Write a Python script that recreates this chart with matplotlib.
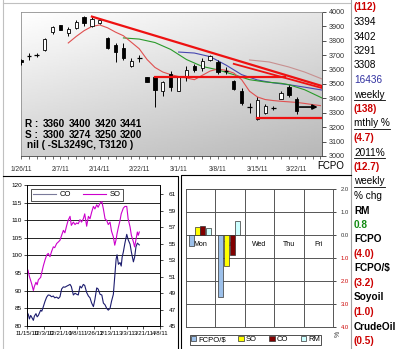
import numpy as np
import matplotlib.pyplot as plt

plt.rcParams['font.family'] = ['Liberation Sans', 'DejaVu Sans']

W, H = 400, 349


def rect(l, t, r, b):
    # pixel box -> figure fraction
    return [l / W, 1 - b / H, (r - l) / W, (b - t) / H]


# %% FCPO daily candles
opens  = [3665, 3692, 3698, 3736, 3861, 3910, 3854, 3889, 3965, 3903, 3924, 3819,
          3771, 3750, 3625, 3678, 3548, 3548, 3451, 3569, 3451, 3556, 3625, 3611,
          3667, 3653, 3588, 3521, 3451, 3338, 3257, 3299, 3331, 3396, 3479, 3396]
highs  = [3675, 3715, 3712, 3818, 3905, 3912, 3893, 3945, 3972, 3965, 3948, 3825,
          3785, 3785, 3680, 3700, 3550, 3550, 3520, 3590, 3555, 3625, 3640, 3680,
          3700, 3670, 3620, 3530, 3470, 3370, 3410, 3360, 3350, 3450, 3490, 3410]
lows   = [3635, 3667, 3690, 3730, 3850, 3872, 3830, 3882, 3903, 3898, 3920, 3745,
          3653, 3670, 3620, 3650, 3512, 3340, 3420, 3450, 3448, 3520, 3580, 3590,
          3662, 3570, 3570, 3455, 3355, 3300, 3250, 3290, 3320, 3395, 3410, 3290]
closes = [3650, 3696, 3702, 3812, 3894, 3875, 3882, 3930, 3924, 3951, 3944, 3750,
          3722, 3680, 3660, 3682, 3514, 3458, 3514, 3479, 3548, 3597, 3597, 3660,
          3694, 3583, 3592, 3465, 3368, 3342, 3389, 3347, 3336, 3437, 3424, 3313]
date_labels = ['1/26/11', '2/7/11', '2/14/11', '2/22/11', '3/1/11', '3/8/11', '3/15/11', '3/22/11']

# moving averages (bar index, price)
ma_red_x = list(range(6, 39))
ma_red = [3785, 3830, 3870, 3900, 3910, 3890, 3860, 3835, 3790, 3745, 3670, 3615,
          3583, 3565, 3552, 3542, 3530, 3560, 3590, 3604, 3595, 3576, 3530, 3450,
          3410, 3392, 3385, 3380, 3376, 3372, 3365, 3357, 3350]
ma_green_x = [13, 15, 17, 19, 21, 23, 25, 27, 29, 31, 33, 34, 36, 38.2]
ma_green = [3820, 3812, 3788, 3740, 3670, 3622, 3598, 3565, 3530, 3514, 3505, 3495, 3460, 3403]
ma_blue_x = [20, 22, 24, 26, 28, 30, 32, 34, 36, 38.2]
ma_blue = [3722, 3715, 3690, 3632, 3565, 3528, 3508, 3495, 3478, 3458]
ma_slow_x = [29, 31.5, 34, 36, 38.2]
ma_slow = [3667, 3653, 3618, 3583, 3535]

# trend / support lines
resist_x, resist_y = [9, 38.2], [3968, 3486]
resist2_x, resist2_y = [27, 38.2], [3640, 3472]
supp_hi_x, supp_hi_y = [17, 33.5], [3550, 3550]
supp_lo_x, supp_lo_y = [30, 38.2], [3262, 3262]
arrow_x, arrow_y = [35, 38], 3340

# %% CO / SO history (days since 11/15/10)
co_days = [0, 1.5, 2.6, 4, 5.1, 6.9, 8, 9.7, 11, 12.3, 14.8, 16, 17.7, 19.5, 21.3, 23, 24.9,
           26.5, 28.5, 30, 32.1, 34, 35.7, 37.5, 39.4, 41, 43, 44.5, 46.6, 48, 50.2, 52,
           53.8, 55.5, 57.4, 59, 61, 62.5, 64.6, 66.5, 68.2, 70, 71.9, 73.5, 75.5, 77,
           79.1, 81, 82.7, 84.5, 86.3, 88, 89.9, 91.5, 93.5, 95, 96.5, 97.5, 99, 100.7,
           102, 103, 104.3, 106, 108, 109.5, 111.6, 113, 115.2, 116.5, 118, 119.5, 121.6]
co_vals = [84.0, 83.2, 82.0, 83.0, 82.5, 81.6, 82.8, 83.5, 82.6, 83.0, 84.5, 84.2, 85.5,
           87.0, 88.2, 88.8, 88.7, 88.3, 88.5, 88.0, 88.2, 87.8, 88.3, 90.5, 91.1, 91.0,
           91.3, 91.5, 91.8, 91.2, 88.8, 89.3, 89.0, 88.8, 91.3, 90.8, 91.8, 91.5, 89.5,
           88.5, 88.0, 86.5, 85.5, 87.5, 90.8, 90.5, 89.0, 88.8, 86.5, 86.0, 85.0, 84.5,
           85.0, 87.0, 89.0, 94.0, 99.0, 100.2, 97.5, 98.0, 97.0, 99.5, 101.0, 103.5,
           106.0, 104.5, 103.2, 101.0, 98.2, 99.5, 102.5, 103.5, 103.0]
so_days = [0, 1, 2.6, 4, 5.1, 6.9, 8, 9.7, 11, 12.3, 14.8, 16, 17.7, 19.5, 21.3, 23, 24.9,
           26.5, 28.5, 30, 32.1, 34, 35.7, 37.5, 39.4, 41, 43, 44.5, 46.6, 48, 50.2, 52,
           53.8, 55.5, 57.4, 59, 61, 62.5, 64.6, 66.5, 68.2, 70, 71.9, 73.5, 75.5, 77,
           79.1, 81, 82.7, 84.5, 86.3, 88, 89.9, 91.5, 93.5, 95, 96.5, 97.5, 99, 100.7,
           102, 104.3, 106, 108, 109.5, 111.6, 113, 115.2, 116.5, 118, 119.5, 120.5, 121.6]
so_vals = [51.4, 51.8, 51.0, 50.5, 50.1, 49.3, 49.8, 50.3, 50.0, 50.6, 50.9, 51.5, 52.3,
           53.0, 53.6, 53.8, 53.4, 54.0, 54.6, 54.5, 55.0, 55.2, 55.4, 56.0, 56.6, 56.3,
           57.2, 57.8, 58.3, 57.2, 57.6, 57.3, 57.5, 57.4, 57.9, 57.6, 58.0, 58.6, 57.1,
           58.3, 58.0, 58.8, 59.5, 59.2, 59.7, 59.4, 59.9, 60.1, 59.2, 58.0, 57.8, 57.3,
           57.6, 56.5, 55.8, 54.8, 55.5, 56.2, 57.0, 57.8, 58.6, 59.3, 59.5, 59.5, 58.0,
           57.0, 56.0, 55.2, 54.6, 55.5, 56.4, 56.0, 56.4]
co_tick_days = [0, 18, 36, 54, 72, 90, 108, 126, 144]
co_tick_labels = ['11/15/10', '12/3/10', '12/21/10', '1/8/11', '1/26/11',
                  '2/13/11', '3/3/11', '3/21/11', '4/8/11']

# %% weekly % change bars
bar_days = ['Mon', 'Tue', 'Wed', 'Thu', 'Fri']
chg_fcpo_usd = [-0.48, -2.70]
chg_so = [0.35, -1.35]
chg_co = [0.40, -0.87]
chg_rm = [0.30, 0.60]

# %% side column
side_text = [
    ('(112)', '#cc0000', 'bold', False), ('3394', 'black', 'normal', False),
    ('3402', 'black', 'normal', False), ('3291', 'black', 'normal', False),
    ('3308', 'black', 'normal', False), ('16436', '#3030a0', 'normal', False),
    ('weekly', 'black', 'normal', True), ('(138)', '#cc0000', 'bold', False),
    ('mthly %', 'black', 'normal', True), ('(4.7)', '#cc0000', 'bold', False),
    ('2011%', 'black', 'normal', True), ('(12.7)', '#cc0000', 'bold', False),
    ('weekly', 'black', 'normal', True), ('% chg', 'black', 'normal', False),
    ('RM', 'black', 'bold', False), ('0.8', '#128a12', 'bold', False),
    ('FCPO', 'black', 'bold', False), ('(4.0)', '#cc0000', 'bold', False),
    ('FCPO/$', 'black', 'bold', False), ('(3.2)', '#cc0000', 'bold', False),
    ('Soyoil', 'black', 'bold', False), ('(1.0)', '#cc0000', 'bold', False),
    ('CrudeOil', 'black', 'bold', False), ('(0.5)', '#cc0000', 'bold', False),
]

fig = plt.figure(figsize=(W / 100, H / 100), dpi=100)
fig.patch.set_facecolor('white')

# %% top candle chart
ax = fig.add_axes(rect(21, 12, 322, 156))
XMAX = 38.2
gy, gx = np.mgrid[0:1:100j, 0:1:100j]
grad = 1 - 0.18 * gy - 0.1 * gx
ax.imshow(grad, extent=[0, XMAX, 3000, 4000], aspect='auto', cmap='gray',
          vmin=0, vmax=1, zorder=0, origin='upper')

xi = np.arange(len(opens))
o = np.array(opens, float)
c = np.array(closes, float)
up = c >= o
doji = np.abs(c - o) < 8
lo = np.minimum(o, c)
hgt = np.abs(c - o)
ax.vlines(xi, lows, highs, color='black', lw=0.7, zorder=3)
m = ~doji & up
ax.bar(xi[m], hgt[m], bottom=lo[m], width=0.42, color='white', edgecolor='black', lw=0.6, zorder=4)
m = ~doji & ~up
ax.bar(xi[m], hgt[m], bottom=lo[m], width=0.42, color='black', edgecolor='black', lw=0.6, zorder=4)
ax.hlines(c[doji], xi[doji] - 0.3, xi[doji] + 0.3, color='black', lw=0.9, zorder=4)

ax.plot(ma_slow_x, ma_slow, color='#c89090', lw=0.8, zorder=2)
ax.plot(ma_blue_x, ma_blue, color='#4646b0', lw=0.8, zorder=2)
ax.plot(ma_green_x, ma_green, color='#2a9a2a', lw=0.8, zorder=2)
ax.plot(ma_red_x, ma_red, color='#e05050', lw=0.8, zorder=2)
ax.plot(resist_x, resist_y, color='#ee1111', lw=1.6, zorder=5)
ax.plot(resist2_x, resist2_y, color='#ee1111', lw=1.3, zorder=5)
ax.plot(supp_hi_x, supp_hi_y, color='#ee1111', lw=1.6, zorder=5)
ax.plot(supp_lo_x, supp_lo_y, color='#ee1111', lw=1.6, zorder=5)
ax.annotate('', xy=(arrow_x[1], arrow_y), xytext=(arrow_x[0], arrow_y),
            arrowprops=dict(arrowstyle='-|>', color='black', lw=1.2, mutation_scale=7),
            zorder=6)

ax.set_xlim(0, XMAX)
ax.set_ylim(3000, 4000)
ax.yaxis.tick_right()
ax.set_yticks(range(3000, 4001, 100))
ax.tick_params(axis='y', labelsize=5.2, length=3, width=0.6, pad=2, colors='#333333')
ax.set_xticks(range(0, 36, 5))
ax.set_xticklabels(date_labels)
ax.set_xticks(range(0, 39), minor=True)
ax.tick_params(axis='x', which='both', labelsize=4.8, length=2.5, width=0.5, pad=5, colors='#333333')
for s in ax.spines.values():
    s.set_color('#909090')
    s.set_linewidth(0.6)
ax.spines['bottom'].set_color('#404040')
ax.spines['right'].set_color('#404040')

# %% CO / SO chart
ax2 = fig.add_axes(rect(27, 185, 160, 326))
l_co, = ax2.plot(co_days, co_vals, color='#1c1c6e', lw=0.8)
ax2.set_ylim(80, 120)
ax2.set_yticks(range(80, 121, 5))
ax2.set_xlim(0, 144)
ax2.set_xticks(co_tick_days)
ax2.set_xticklabels(co_tick_labels)
ax2.grid(axis='y', color='black', lw=0.6)
ax2.tick_params(labelsize=4.6, length=2, width=0.5, pad=1.5)
ax2.tick_params(axis='x', labelsize=4.4)
ax2.spines['top'].set_visible(False)
ax2b = ax2.twinx()
l_so, = ax2b.plot(so_days, so_vals, color='#cc00cc', lw=0.8)
ax2b.set_ylim(45, 62.1)
ax2b.set_yticks(range(45, 62, 2))
ax2b.tick_params(labelsize=4.6, length=2, width=0.5, pad=4)
ax2b.spines['top'].set_visible(False)
for a in (ax2, ax2b):
    for s in a.spines.values():
        s.set_linewidth(0.6)
leg = ax2.legend([l_co, l_so], ['CO', 'SO'], ncol=2, loc='upper left',
                 bbox_to_anchor=(0.0, 1.0), fontsize=5.5, frameon=True, fancybox=False,
                 handlelength=3, columnspacing=1.5, borderpad=0.3, handletextpad=0.5)
leg.get_frame().set_edgecolor('black')
leg.get_frame().set_linewidth(0.6)
leg.legend_handles[0].set_color('#7a7a9a')

# %% weekly change bars
ax3 = fig.add_axes(rect(186, 189, 333, 327))
offs = [-0.31, -0.12, 0.07, 0.26]
series = [(chg_fcpo_usd, '#9cc0ea', 'FCPO/$'), (chg_so, '#ffff00', 'SO'),
          (chg_co, '#800000', 'CO'), (chg_rm, '#ccffff', 'RM')]
handles = []
for (vals, col, lab), d in zip(series, offs):
    b = ax3.bar(np.arange(len(vals)) + d, vals, width=0.17, color=col,
                edgecolor='#333333', lw=0.5, label=lab, zorder=3)
    handles.append(b)
ax3.set_xlim(-0.5, 4.5)
ax3.set_ylim(-4, 2)
ax3.set_xticks([])
for k in range(1, 5):
    ax3.axvline(k - 0.5, color='#555555', lw=0.7, zorder=1)
ax3.set_yticks(range(-4, 3))
ax3.grid(axis='y', color='#555555', lw=0.7, zorder=1)
ax3.yaxis.tick_right()
ax3.set_yticklabels([f'{abs(v):.1f}' for v in range(-4, 3)])
for t, v in zip(ax3.get_yticklabels(), range(-4, 3)):
    t.set_color('#cc0000' if v < 0 else '#333333')
ax3.tick_params(axis='y', labelsize=4.2, length=2.5, width=0.5, pad=3)
for i, dname in enumerate(bar_days):
    ax3.text(i, -0.4, dname, ha='center', va='center', fontsize=5, zorder=2)
for s in ax3.spines.values():
    s.set_color('#555555')
    s.set_linewidth(0.7)
leg3 = ax3.legend(handles=handles, ncol=4, loc='upper left', bbox_to_anchor=(0.0, -0.03),
                  fontsize=5.5, frameon=True, fancybox=False, handlelength=0.7,
                  handleheight=0.7, columnspacing=1.6, borderpad=0.15, handletextpad=0.3)
leg3.get_frame().set_edgecolor('black')
leg3.get_frame().set_linewidth(0.6)

# %% overlay: frames and text in pixel coords
ov = fig.add_axes([0, 0, 1, 1], zorder=10)
ov.set_xlim(0, W)
ov.set_ylim(H, 0)
ov.axis('off')
ov.patch.set_alpha(0)
ov.plot([3, 3], [0, H], color='#c0c0c0', lw=0.8)
ov.plot([3, 351], [2.5, 2.5], color='#c0c0c0', lw=0.8)
ov.plot([351, 351], [0, H], color='#a0a0a0', lw=0.8)
ov.plot([3, 178, 178], [176, 176, H], color='black', lw=0.8)
ov.plot([181, 181, 351], [H, 174.5, 174.5], color='black', lw=0.8)

tb = dict(fontsize=7.2, fontweight='bold', va='center', ha='left', color='black')
ov.text(25, 124, 'R :', **tb)
ov.text(25, 134.5, 'S :', **tb)
for xp, r, s in zip([43, 69, 95, 120], ['3360', '3400', '3420', '3441'],
                    ['3300', '3274', '3250', '3200']):
    ov.text(xp, 124, r, **tb)
    ov.text(xp, 134.5, s, **tb)
ov.text(27, 145, 'nil ( -SL3249C, T3120 )', **tb)
ov.text(317, 166, 'FCPO', fontsize=7, va='center', ha='left')
ov.text(338, 334, '%', fontsize=5, rotation=90, ha='center', va='center', color='#333333')

fig.canvas.draw()
rend = fig.canvas.get_renderer()
inv = ov.transData.inverted()
for k, (txt, col, wt, ul) in enumerate(side_text):
    yp = 7.5 + 14.5 * k
    t = ov.text(354, yp, txt, fontsize=7.2, fontweight=wt, color=col, va='center', ha='left')
    if ul:
        bb = t.get_window_extent(renderer=rend)
        (x0, _), (x1, _) = inv.transform([(bb.x0, bb.y0), (bb.x1, bb.y0)])
        ov.plot([x0, x1], [yp + 5, yp + 5], color=col, lw=0.6)

fig.savefig('out.png', dpi=100)
